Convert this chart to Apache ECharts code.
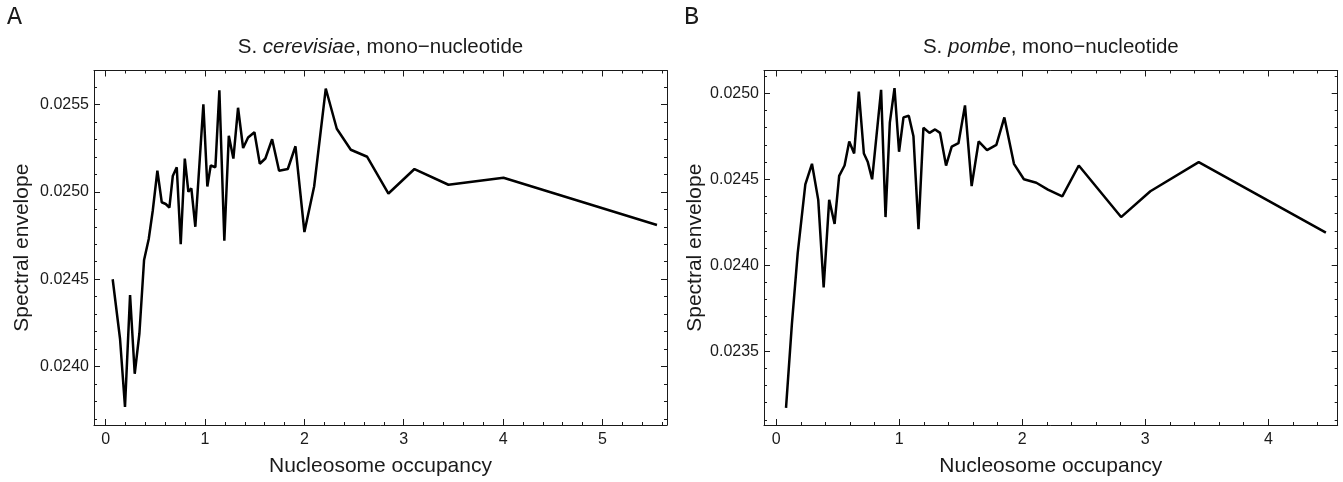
<!DOCTYPE html>
<html><head><meta charset="utf-8">
<script src="https://cdn.jsdelivr.net/npm/echarts@6/dist/echarts.min.js"></script>
<style>html,body{margin:0;padding:0;background:#fff}#c{width:1343px;height:482px}</style>
</head><body><div id="c"></div>
<script>
// ---- data ----
const cerevisiaeX = [0.070,0.144,0.194,0.245,0.292,0.339,0.386,0.433,0.473,0.520,0.564,0.604,0.641,0.675,0.715,0.755,0.796,0.832,0.862,0.902,0.983,1.023,1.057,1.104,1.144,1.194,1.239,1.285,1.332,1.383,1.433,1.497,1.551,1.607,1.675,1.745,1.833,1.910,2.000,2.098,2.215,2.326,2.467,2.632,2.846,3.108,3.450,4.004,5.549];
const cerevisiaeY = [0.02450,0.02416,0.02377,0.02441,0.02396,0.02419,0.02461,0.02473,0.02489,0.02512,0.02494,0.02493,0.02491,0.02509,0.02514,0.02470,0.02519,0.02500,0.02502,0.02480,0.02550,0.02503,0.02515,0.02514,0.02558,0.02472,0.02532,0.02519,0.02548,0.02525,0.02531,0.02534,0.02516,0.02519,0.02530,0.02512,0.02513,0.02526,0.02477,0.02503,0.02559,0.02536,0.02524,0.02520,0.02499,0.02513,0.02504,0.02508,0.02481];
const pombeX = [0.079,0.127,0.174,0.236,0.290,0.341,0.385,0.430,0.474,0.511,0.555,0.593,0.633,0.671,0.712,0.744,0.779,0.852,0.888,0.923,0.961,0.998,1.034,1.077,1.115,1.156,1.196,1.245,1.291,1.331,1.380,1.426,1.481,1.534,1.588,1.645,1.713,1.789,1.854,1.932,2.013,2.114,2.208,2.325,2.459,2.803,3.041,3.434,4.468];
const pombeY = [0.02317,0.02366,0.02407,0.02447,0.02459,0.02438,0.02387,0.02438,0.02424,0.02452,0.02458,0.02472,0.02465,0.02501,0.02465,0.02460,0.02450,0.02502,0.02428,0.02483,0.02503,0.02466,0.02486,0.02487,0.02475,0.02421,0.02480,0.02477,0.02479,0.02477,0.02458,0.02469,0.02471,0.02493,0.02446,0.02472,0.02467,0.02470,0.02486,0.02459,0.02450,0.02448,0.02444,0.02440,0.02458,0.02428,0.02443,0.02460,0.02419];

const xTicksA = [0,1,2,3,4,5];
const yTicksA = [0.0240,0.0245,0.0250,0.0255];
const xTicksB = [0,1,2,3,4];
const yTicksB = [0.0235,0.0240,0.0245,0.0250];

const panelLabels = ['A','B'];
const titleSpecies = ['S. ','cerevisiae','S. ','pombe'];
const titleSuffix = ', mono\u2212nucleotide';
const xAxisTitle = 'Nucleosome occupancy';
const yAxisTitle = 'Spectral envelope';

// ---- layout ----
const FONT = '"Liberation Sans", Arial, Helvetica, sans-serif';
const INK = '#1a1a1a';
const G = [
  {left:94, top:70.5, width:573, height:354.5, xmin:-0.118, xmax:5.65, ymin:0.023667, ymax:0.025693, nameGapY:61},
  {left:764, top:70.5, width:573.7, height:354.5, xmin:-0.1, xmax:4.564, ymin:0.02307, ymax:0.025133, nameGapY:58}
];

function minorVals(min, max, step, dec) {
  const out = [];
  const start = Math.ceil(min / step - 1e-9);
  for (let k = start; k * step <= max + 1e-12; k++) out.push(+(k * step).toFixed(dec));
  return out;
}

function frameAxes(kind, gi, min, max, majors, minors, fmt, nameCfg) {
  const positions = kind === 'x' ? ['bottom','top'] : ['left','right'];
  const out = [];
  positions.forEach((pos, pi) => {
    [[majors, 6], [minors, 3]].forEach(([vals, len], ti) => {
      const isMain = pi === 0 && ti === 0;
      const ax = {
        type:'value', gridIndex:gi, position:pos, min:min, max:max, scale:true,
        axisLine:{show: ti === 0, onZero:false, lineStyle:{color:INK, width:1}},
        axisTick:{show:true, inside:true, length:len, customValues:vals, lineStyle:{color:INK, width:1}},
        axisLabel:{show:isMain, customValues:vals, formatter:fmt, color:INK, fontSize:16, fontFamily:FONT,
                   margin: kind === 'x' ? 7 : 5},
        splitLine:{show:false}, minorTick:{show:false}, minorSplitLine:{show:false}
      };
      if (isMain && nameCfg) Object.assign(ax, nameCfg);
      out.push(ax);
    });
  });
  return out;
}

const xAxes = [], yAxes = [];
const ticks = [[xTicksA, yTicksA], [xTicksB, yTicksB]];
G.forEach((g, gi) => {
  const [xt, yt] = ticks[gi];
  xAxes.push(...frameAxes('x', gi, g.xmin, g.xmax, xt, minorVals(g.xmin, g.xmax, 0.2, 1),
    v => String(Math.round(v)),
    {name:xAxisTitle, nameLocation:'middle', nameGap:31,
     nameTextStyle:{fontSize:21, color:INK, fontFamily:FONT}}));
  yAxes.push(...frameAxes('y', gi, g.ymin, g.ymax, yt, minorVals(g.ymin, g.ymax, 0.0001, 4),
    v => v.toFixed(4),
    {name:yAxisTitle, nameLocation:'middle', nameGap:g.nameGapY, nameRotate:90,
     nameTextStyle:{fontSize:21, color:INK, fontFamily:FONT}}));
});

const richT = {
  n:{fontSize:20.5, fontFamily:FONT, color:INK, fontWeight:'normal'},
  i:{fontSize:20.5, fontFamily:FONT, color:INK, fontStyle:'italic', fontWeight:'normal'}
};

const option = {
  animation:false,
  backgroundColor:'#ffffff',
  title:[
    {text:panelLabels[0], left:7, top:5, padding:0,
     textStyle:{fontFamily:'"Liberation Mono", "DejaVu Sans Mono", monospace', fontSize:25, fontWeight:'normal', color:INK}},
    {text:panelLabels[1], left:684, top:5, padding:0,
     textStyle:{fontFamily:'"Liberation Mono", "DejaVu Sans Mono", monospace', fontSize:25, fontWeight:'normal', color:INK}},
    {text:'{n|' + titleSpecies[0] + '}{i|' + titleSpecies[1] + '}{n|' + titleSuffix + '}',
     left:G[0].left + G[0].width/2, textAlign:'center', top:37, padding:0, textStyle:{rich:richT}},
    {text:'{n|' + titleSpecies[2] + '}{i|' + titleSpecies[3] + '}{n|' + titleSuffix + '}',
     left:G[1].left + G[1].width/2, textAlign:'center', top:37, padding:0, textStyle:{rich:richT}}
  ],
  grid: G.map(g => ({left:g.left, top:g.top, width:g.width, height:g.height, containLabel:false})),
  xAxis: xAxes,
  yAxis: yAxes,
  series:[
    {type:'line', xAxisIndex:0, yAxisIndex:0, showSymbol:false, symbol:'none',
     lineStyle:{color:'#000', width:2.5}, data: cerevisiaeX.map((x, i) => [x, cerevisiaeY[i]])},
    {type:'line', xAxisIndex:4, yAxisIndex:4, showSymbol:false, symbol:'none',
     lineStyle:{color:'#000', width:2.5}, data: pombeX.map((x, i) => [x, pombeY[i]])}
  ]
};

const chart = echarts.init(document.getElementById('c'), null, {renderer:'canvas'});
chart.setOption(option);
</script>
</body></html>
